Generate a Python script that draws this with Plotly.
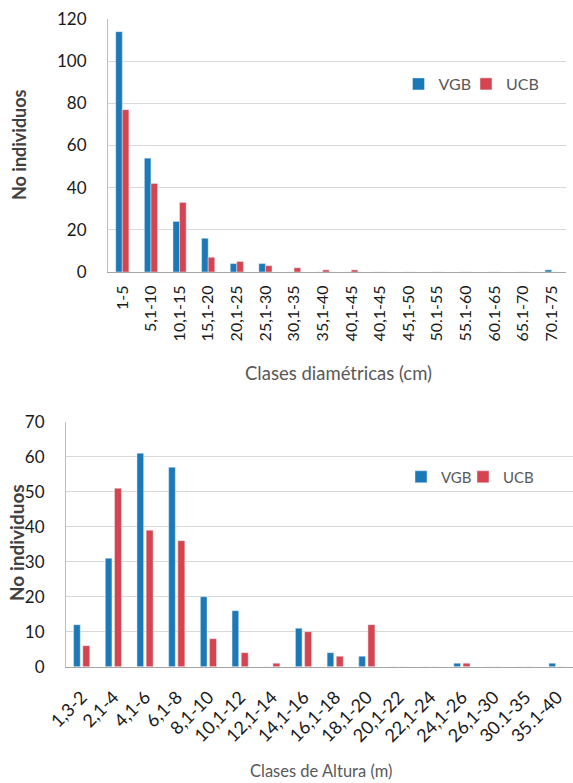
import plotly.graph_objects as go

# ---- data: diameter classes (top chart) ----
diam_labels = ["1-5", "5,1-10", "10,1-15", "15,1-20", "20,1-25", "25,1-30", "30,1-35",
               "35,1-40", "40,1-45", "40,1-45", "45,1-50", "50.1-55", "55.1-60",
               "60.1-65", "65.1-70", "70.1-75"]
diam_vgb = [114, 54, 24, 16, 4, 4, 0, 0, 0, 0, 0, 0, 0, 0, 0, 1]
diam_ucb = [77, 42, 33, 7, 5, 3, 2, 1, 1, 0, 0, 0, 0, 0, 0, 0]

# ---- data: height classes (bottom chart) ----
alt_labels = ["1,3-2", "2,1-4", "4,1-6", "6,1-8", "8,1-10", "10,1-12", "12,1-14",
              "14,1-16", "16,1-18", "18,1-20", "20,1-22", "22,1-24", "24,1-26",
              "26,1-30", "30.1-35", "35.1-40"]
alt_vgb = [12, 31, 61, 57, 20, 16, 0, 11, 4, 3, 0, 0, 1, 0, 0, 1]
alt_ucb = [6, 51, 39, 36, 8, 4, 1, 10, 3, 12, 0, 0, 1, 0, 0, 0]

series_names = ["VGB", "UCB"]

BLUE = "#1b79b7"
RED = "#d6444f"
FONT = "Lato"
W, H = 573, 783

xd = list(range(len(diam_labels)))
xa = list(range(len(alt_labels)))

fig = go.Figure()
fig.add_trace(go.Bar(x=xd, y=diam_vgb, name=series_names[0], marker_color=BLUE,
                     width=0.23, offset=-0.23, xaxis="x", yaxis="y", legend="legend",
                     showlegend=True))
fig.add_trace(go.Bar(x=xd, y=diam_ucb, name=series_names[1], marker_color=RED,
                     width=0.23, offset=0.0, xaxis="x", yaxis="y", legend="legend3",
                     showlegend=True))
fig.add_trace(go.Bar(x=xa, y=alt_vgb, name=series_names[0], marker_color=BLUE,
                     width=0.21, offset=-0.26, xaxis="x2", yaxis="y2", legend="legend2",
                     showlegend=True))
fig.add_trace(go.Bar(x=xa, y=alt_ucb, name=series_names[1], marker_color=RED,
                     width=0.22, offset=0.03, xaxis="x2", yaxis="y2", legend="legend4",
                     showlegend=True))

def px_x(v):
    return v / W

def px_y(v):
    return 1 - v / H

ytick_font = dict(family=FONT, size=17, color="#1a1a1a")

common_x = dict(showline=True, linecolor="#a6a6a6", linewidth=1,
                showgrid=False, ticks="", automargin=False, fixedrange=True)
common_y = dict(tickfont=ytick_font, showline=True, linecolor="#bfbfbf", linewidth=1,
                showgrid=True, gridcolor="#d9d9d9", gridwidth=1, zeroline=False,
                ticks="", ticklabelstandoff=17, automargin=False, fixedrange=True)

def legend_at(xpx, ypx, size):
    return dict(x=px_x(xpx), y=px_y(ypx), orientation="h", xanchor="left", yanchor="middle",
                font=dict(family=FONT, size=size, color="#595959"),
                bgcolor="rgba(0,0,0,0)", itemclick=False, itemdoubleclick=False,
                visible=True)

fig.update_layout(
    width=W, height=H,
    showlegend=True,
    margin=dict(l=0, r=0, t=0, b=0, autoexpand=False),
    paper_bgcolor="white", plot_bgcolor="white",
    barmode="group",
    xaxis=dict(domain=[px_x(108), px_x(566)], anchor="y", range=[-0.5, len(xd) - 0.5],
               tickmode="array", tickvals=xd, ticktext=diam_labels, tickangle=-90,
               tickfont=dict(family=FONT, size=16, color="#1a1a1a"), ticklabelstandoff=6,
               **common_x),
    yaxis=dict(domain=[px_y(272), px_y(19)], anchor="x", range=[0, 120], dtick=20,
               **common_y),
    xaxis2=dict(domain=[px_x(66), px_x(573)], anchor="y2", range=[-0.5, len(xa) - 0.5],
                tickmode="array", tickvals=xa, ticktext=alt_labels, tickangle=-45,
                tickfont=dict(family=FONT, size=18, color="#1a1a1a"), ticklabelstandoff=12,
                **common_x),
    yaxis2=dict(domain=[px_y(666.7), px_y(421.7)], anchor="x2", range=[0, 70], dtick=10,
                **common_y),
    legend=legend_at(398.5, 84, 16),
    legend3=legend_at(466, 84, 16),
    legend2=legend_at(401, 477, 15),
    legend4=legend_at(463, 477, 15),
    annotations=[
        dict(text="No individuos", xref="paper", yref="paper", x=px_x(19), y=px_y(145),
             textangle=-90, showarrow=False, xanchor="center", yanchor="middle",
             font=dict(family=FONT, size=18, color="#404040", weight="bold")),
        dict(text="Clases diamétricas (cm)", xref="paper", yref="paper", x=px_x(338), y=px_y(373),
             showarrow=False, xanchor="center", yanchor="middle",
             font=dict(family=FONT, size=18.5, color="#595959")),
        dict(text="No individuos", xref="paper", yref="paper", x=px_x(16), y=px_y(543),
             textangle=-90, showarrow=False, xanchor="center", yanchor="middle",
             font=dict(family=FONT, size=19, color="#404040", weight="bold")),
        dict(text="Clases de Altura (m)", xref="paper", yref="paper", x=px_x(321), y=px_y(771),
             showarrow=False, xanchor="center", yanchor="middle",
             font=dict(family=FONT, size=16.5, color="#595959")),
    ],
)

fig.write_html(
    "out.html",
    config={"displayModeBar": False},
    post_script="document.body.style.margin='0';document.body.style.overflow='hidden';",
)
